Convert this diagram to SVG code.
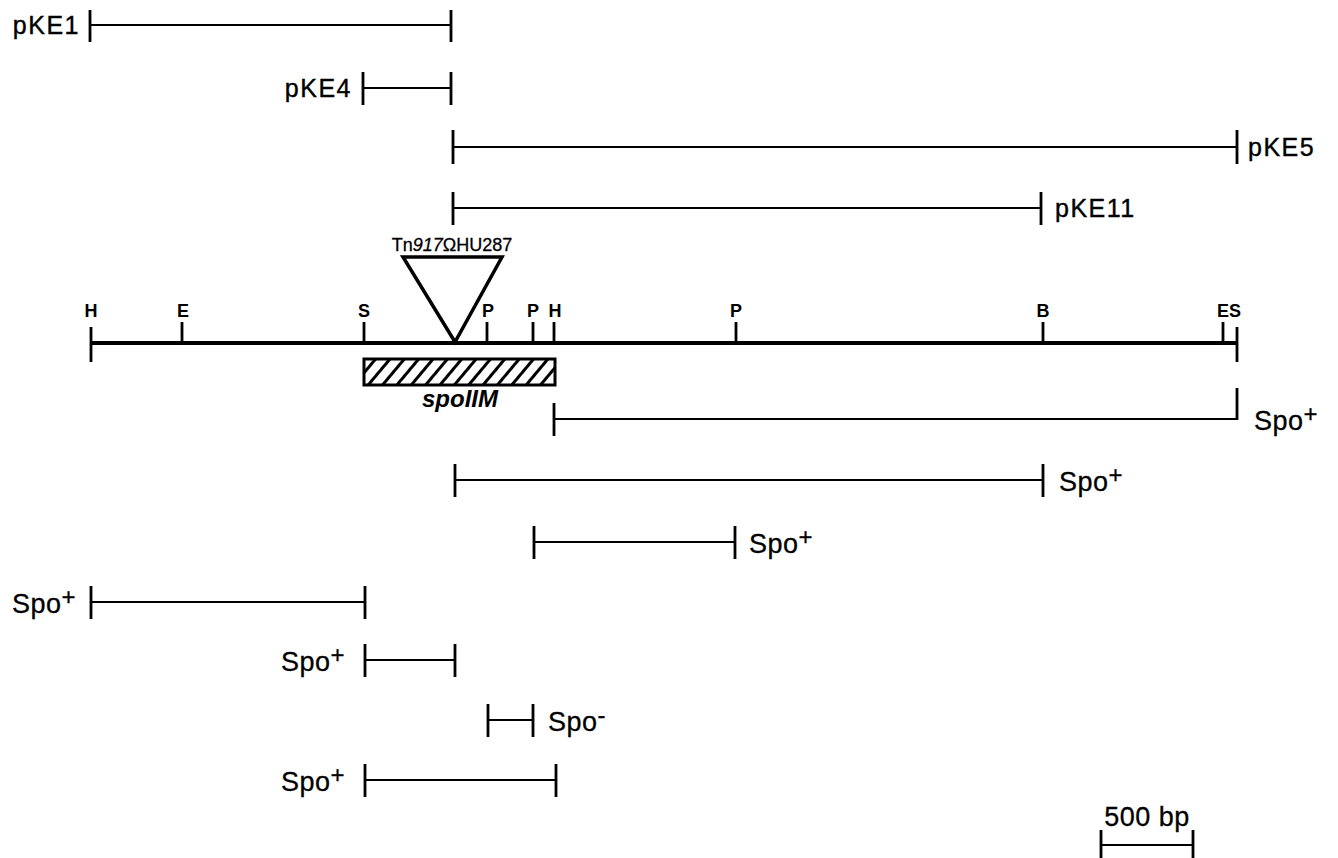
<svg xmlns="http://www.w3.org/2000/svg" width="1338" height="858" viewBox="0 0 1338 858">
<defs>
<style>
.ln{stroke:#000;stroke-width:2;fill:none}
.tk{stroke:#000;stroke-width:2.8;fill:none}
.main{stroke:#000;stroke-width:4;fill:none}
.lab{font-family:"Liberation Sans",Arial,sans-serif;font-size:25px;letter-spacing:1.5px;fill:#000;stroke:#000;stroke-width:0.4}
.spo{font-family:"Liberation Sans",Arial,sans-serif;font-size:27px;letter-spacing:0.5px;fill:#000;stroke:#000;stroke-width:0.3}
.sup{font-size:24px}
.site{font-family:"Liberation Sans",Arial,sans-serif;font-size:18px;font-weight:bold;fill:#000}
</style>
<pattern id="hatch" patternUnits="userSpaceOnUse" width="11" height="11" patternTransform="rotate(40)">
<rect width="11" height="11" fill="#fff"/>
<line x1="0" y1="0" x2="0" y2="11" stroke="#000" stroke-width="6"/>
</pattern>
</defs>
<rect width="1338" height="858" fill="#fff"/>

<g id="connectors">
<g id="pKE1"><path class="ln" d="M90 25H451"/><path class="tk" d="M90 10V42M451 10V42"/><text class="lab" x="80" y="34" text-anchor="end">pKE1</text></g>
<g id="pKE4"><path class="ln" d="M363 88H451"/><path class="tk" d="M363 72V105M451 72V105"/><text class="lab" x="352" y="97" text-anchor="end">pKE4</text></g>
<g id="pKE5"><path class="ln" d="M453 147H1237"/><path class="tk" d="M453 130V164M1237 130V164"/><text class="lab" x="1248" y="156">pKE5</text></g>
<g id="pKE11"><path class="ln" d="M453 208H1041"/><path class="tk" d="M453 192V225M1041 192V225"/><text class="lab" x="1055" y="217">pKE11</text></g>
</g>

<g id="map">
<path class="main" d="M91 343H1238"/>
<path class="tk" d="M91 327V362M1237 327V362"/>
<path class="tk" d="M182 343V322M364 343V322M487 343V322M533 343V322M554 343V322M736 343V322M1043 343V322M1223 343V322"/>
<text class="site" x="91" y="317" text-anchor="middle">H</text>
<text class="site" x="183" y="317" text-anchor="middle">E</text>
<text class="site" x="364" y="317" text-anchor="middle">S</text>
<text class="site" x="488" y="317" text-anchor="middle">P</text>
<text class="site" x="533" y="317" text-anchor="middle">P</text>
<text class="site" x="555" y="317" text-anchor="middle">H</text>
<text class="site" x="736" y="317" text-anchor="middle">P</text>
<text class="site" x="1043" y="317" text-anchor="middle">B</text>
<text class="site" x="1229" y="317" text-anchor="middle">ES</text>
</g>

<g id="tn917">
<path d="M403 257H502L455 342Z" fill="#fff" stroke="#000" stroke-width="3.5" stroke-linejoin="miter"/>
<text x="452" y="251" text-anchor="middle" font-family="'Liberation Sans',Arial,sans-serif" font-size="18" fill="#000" stroke="#000" stroke-width="0.3">Tn<tspan font-style="italic">917</tspan>ΩHU287</text>
</g>

<g id="spoIIM">
<rect x="364" y="359" width="191" height="26" fill="url(#hatch)" stroke="#000" stroke-width="3"/>
<text x="460" y="407" text-anchor="middle" font-family="'Liberation Sans',Arial,sans-serif" font-size="24" font-style="italic" font-weight="bold" fill="#000">spoIIM</text>
</g>

<g id="subclones">
<g id="s1"><path class="ln" d="M554 419H1237"/><path class="tk" d="M554 403V436M1237 388V420"/><text class="spo" x="1254" y="430">Spo<tspan class="sup" dy="-8">+</tspan></text></g>
<g id="s2"><path class="ln" d="M455 480H1043"/><path class="tk" d="M455 464V497M1043 464V497"/><text class="spo" x="1059" y="491">Spo<tspan class="sup" dy="-8">+</tspan></text></g>
<g id="s3"><path class="ln" d="M534 542H735"/><path class="tk" d="M534 526V559M735 526V559"/><text class="spo" x="749" y="553">Spo<tspan class="sup" dy="-8">+</tspan></text></g>
<g id="s4"><path class="ln" d="M91 602H365"/><path class="tk" d="M91 586V619M365 586V619"/><text class="spo" x="12" y="613">Spo<tspan class="sup" dy="-8">+</tspan></text></g>
<g id="s5"><path class="ln" d="M365 660H455"/><path class="tk" d="M365 644V677M455 644V677"/><text class="spo" x="281" y="671">Spo<tspan class="sup" dy="-8">+</tspan></text></g>
<g id="s6"><path class="ln" d="M488 720H533"/><path class="tk" d="M488 704V737M533 704V737"/><text class="spo" x="548" y="731">Spo<tspan class="sup" dy="-8">-</tspan></text></g>
<g id="s7"><path class="ln" d="M365 780H556"/><path class="tk" d="M365 764V797M556 764V797"/><text class="spo" x="281" y="791">Spo<tspan class="sup" dy="-8">+</tspan></text></g>
</g>

<g id="scale">
<path class="ln" d="M1101 845H1193"/><path class="tk" d="M1101 830V858M1193 830V858"/>
<text class="spo" x="1147" y="826" text-anchor="middle" font-size="27">500 bp</text>
</g>
</svg>
